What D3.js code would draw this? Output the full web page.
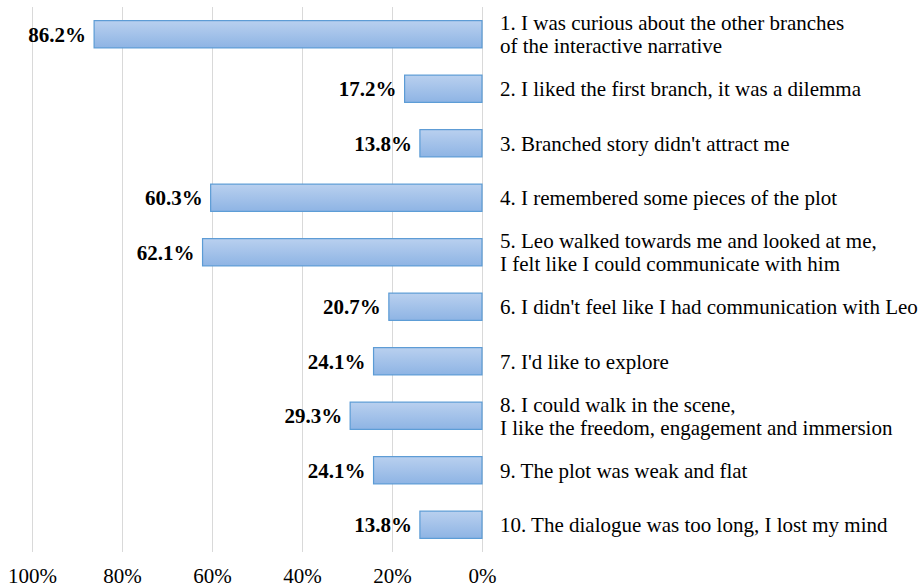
<!DOCTYPE html>
<html>
<head>
<meta charset="utf-8">
<script src="https://cdn.jsdelivr.net/npm/d3@7/dist/d3.min.js"></script>
<style>
  body { margin: 0; background: #fff; }
</style>
</head>
<body>
<div id="chart"></div>
<script>
(function () {
  'use strict';

  // ---- data
  var statements = [
    ['1. I was curious about the other branches', 'of the interactive narrative'],
    ['2. I liked the first branch, it was a dilemma'],
    ["3. Branched story didn't attract me"],
    ['4. I remembered some pieces of the plot'],
    ['5. Leo walked towards me and looked at me,', 'I felt like I could communicate with him'],
    ["6. I didn't feel like I had communication with Leo"],
    ["7. I'd like to explore"],
    ['8. I could walk in the scene,', 'I like the freedom, engagement and immersion'],
    ['9. The plot was weak and flat'],
    ['10. The dialogue was too long, I lost my mind']
  ];
  var percents = [86.2, 17.2, 13.8, 60.3, 62.1, 20.7, 24.1, 29.3, 24.1, 13.8];
  var ticks = [0, 20, 40, 60, 80, 100];

  var width = 921, height = 587;
  var plot = { left: 32, right: 482, top: 7, bottom: 552 };
  var font = "'Liberation Serif', 'Times New Roman', serif";

  var svg = d3.select('#chart').append('svg')
    .attr('width', width)
    .attr('height', height)
    .style('font-family', font);

  //----- bar gradient
  var grad = svg.append('defs').append('linearGradient')
    .attr('id', 'barFill')
    .attr('x1', 0).attr('y1', 0).attr('x2', 0).attr('y2', 1);
  grad.append('stop').attr('offset', '0%').attr('stop-color', '#b9d0ef');
  grad.append('stop').attr('offset', '100%').attr('stop-color', '#8eb4e4');

  // reversed axis: 100% on the left, 0% on the right
  var x = d3.scaleLinear().domain([100, 0]).range([plot.left, plot.right]);
  var y = d3.scaleBand()
    .domain(d3.range(percents.length))
    .range([plot.top, plot.bottom])
    .paddingInner(0.5)
    .paddingOuter(0.25);

  //----- gridlines
  svg.append('g').selectAll('line.grid')
    .data(ticks).enter()
    .append('line')
    .attr('class', 'grid')
    .attr('x1', function (d) { return Math.round(x(d)) + 0.5; })
    .attr('x2', function (d) { return Math.round(x(d)) + 0.5; })
    .attr('y1', plot.top)
    .attr('y2', plot.bottom)
    .attr('stroke', '#d9d9d9')
    .attr('stroke-width', 1);

  //----- tick labels
  var axis = d3.axisBottom(x)
    .tickValues(ticks)
    .tickSize(0)
    .tickPadding(0)
    .tickFormat(function (d) { return d + '%'; });
  var axisG = svg.append('g')
    .attr('transform', 'translate(0,' + (plot.bottom + 16) + ')')
    .call(axis)
    .attr('font-family', font)
    .attr('font-size', 21);
  axisG.select('.domain').remove();
  axisG.selectAll('text').attr('fill', '#000');

  //----- bars
  svg.append('g').selectAll('rect.bar')
    .data(percents).enter()
    .append('rect')
    .attr('class', 'bar')
    .attr('x', function (d) { return x(d); })
    .attr('y', function (d, i) { return y(i); })
    .attr('width', function (d) { return x(0) - x(d); })
    .attr('height', y.bandwidth())
    .attr('fill', 'url(#barFill)')
    .attr('stroke', '#5b9bd5')
    .attr('stroke-width', 1.2);

  //----- value labels
  svg.append('g').selectAll('text.value')
    .data(percents).enter()
    .append('text')
    .attr('class', 'value')
    .attr('x', function (d) { return x(d) - 8; })
    .attr('y', function (d, i) { return y(i) + y.bandwidth() / 2; })
    .attr('dy', '0.35em')
    .attr('text-anchor', 'end')
    .attr('font-size', 21)
    .attr('font-weight', 'bold')
    .text(function (d) { return d.toFixed(1) + '%'; });

  //----- category labels
  var lineH = 23;
  var labels = svg.append('g').selectAll('text.cat')
    .data(statements).enter()
    .append('text')
    .attr('class', 'cat')
    .attr('x', 500)
    .attr('y', function (d, i) {
      return y(i) + y.bandwidth() / 2 - (d.length - 1) * lineH / 2;
    })
    .attr('font-size', 21)
    .attr('fill', '#000');

  labels.selectAll('tspan')
    .data(function (d) { return d; }).enter()
    .append('tspan')
    .attr('x', 500)
    .attr('dy', function (d, j) { return j === 0 ? '0.35em' : lineH; })
    .text(function (d) { return d; });
})();
</script>
</body>
</html>
